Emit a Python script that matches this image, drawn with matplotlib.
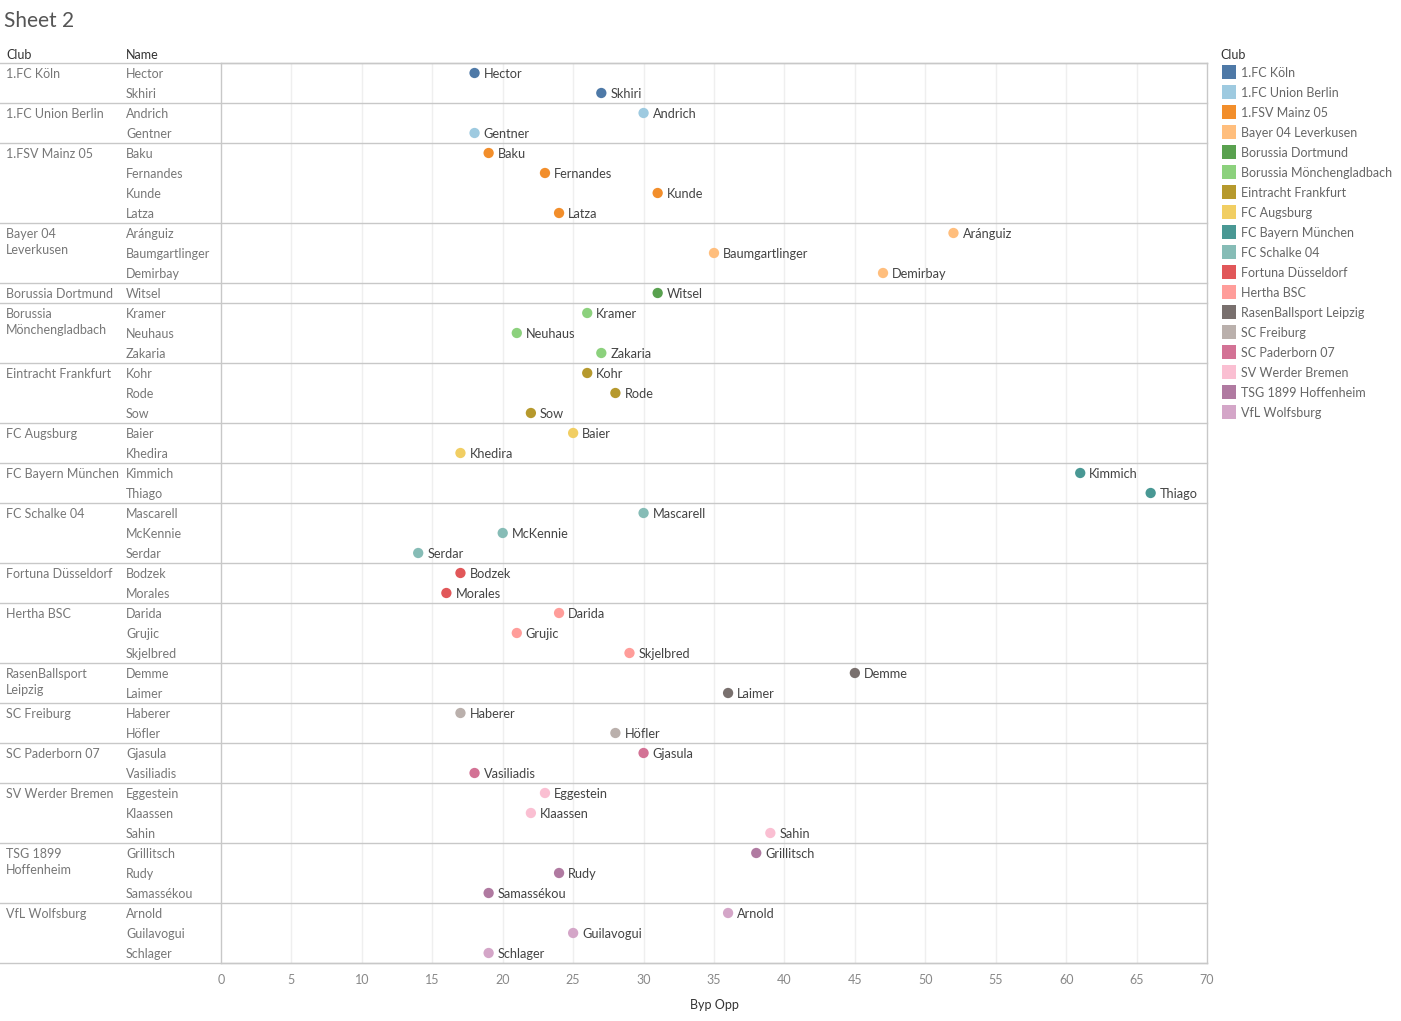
import numpy as np
import matplotlib.pyplot as plt
from matplotlib.patches import Rectangle

plt.rcParams['font.family'] = ['Lato', 'DejaVu Sans']

# Data
clubs = ['1.FC Köln', '1.FC Union Berlin', '1.FSV Mainz 05', 'Bayer 04 Leverkusen',
         'Borussia Dortmund', 'Borussia Mönchengladbach', 'Eintracht Frankfurt',
         'FC Augsburg', 'FC Bayern München', 'FC Schalke 04', 'Fortuna Düsseldorf',
         'Hertha BSC', 'RasenBallsport Leipzig', 'SC Freiburg', 'SC Paderborn 07',
         'SV Werder Bremen', 'TSG 1899 Hoffenheim', 'VfL Wolfsburg']
club_row_labels = ['1.FC Köln', '1.FC Union Berlin', '1.FSV Mainz 05', 'Bayer 04\nLeverkusen',
                   'Borussia Dortmund', 'Borussia\nMönchengladbach', 'Eintracht Frankfurt',
                   'FC Augsburg', 'FC Bayern München', 'FC Schalke 04', 'Fortuna Düsseldorf',
                   'Hertha BSC', 'RasenBallsport\nLeipzig', 'SC Freiburg', 'SC Paderborn 07',
                   'SV Werder Bremen', 'TSG 1899\nHoffenheim', 'VfL Wolfsburg']
club_colors = ['#4E79A7', '#9ECAE0', '#F28E2B', '#FFBE7D', '#59A14F', '#8CD17D',
               '#B6992D', '#F1CE63', '#499894', '#86BCB6', '#E15759', '#FF9D9A',
               '#79706E', '#BAB0AC', '#D37295', '#FABFD2', '#B07AA1', '#D4A6C8']

player_club = [0, 0, 1, 1, 2, 2, 2, 2, 3, 3, 3, 4, 5, 5, 5, 6, 6, 6, 7, 7, 8, 8,
               9, 9, 9, 10, 10, 11, 11, 11, 12, 12, 13, 13, 14, 14, 15, 15, 15,
               16, 16, 16, 17, 17, 17]
players = ['Hector', 'Skhiri', 'Andrich', 'Gentner', 'Baku', 'Fernandes', 'Kunde', 'Latza',
           'Aránguiz', 'Baumgartlinger', 'Demirbay', 'Witsel', 'Kramer', 'Neuhaus', 'Zakaria',
           'Kohr', 'Rode', 'Sow', 'Baier', 'Khedira', 'Kimmich', 'Thiago',
           'Mascarell', 'McKennie', 'Serdar', 'Bodzek', 'Morales', 'Darida', 'Grujic',
           'Skjelbred', 'Demme', 'Laimer', 'Haberer', 'Höfler', 'Gjasula', 'Vasiliadis',
           'Eggestein', 'Klaassen', 'Sahin', 'Grillitsch', 'Rudy', 'Samassékou',
           'Arnold', 'Guilavogui', 'Schlager']
byp_opp = [18, 27, 30, 18, 19, 23, 31, 24, 52, 35, 47, 31, 26, 21, 27, 26, 28, 22,
           25, 17, 61, 66, 30, 20, 14, 17, 16, 24, 21, 29, 45, 36, 17, 28, 30, 18,
           23, 22, 39, 38, 24, 19, 36, 25, 19]

W, H = 1401, 1021
fig = plt.figure(figsize=(W / 100, H / 100), dpi=100)
fig.patch.set_facecolor('white')

L, R, T, B = 221, 1207, 63, 963
ax = fig.add_axes([L / W, 1 - B / H, (R - L) / W, (B - T) / H])

n = len(players)
rows = np.arange(n)
ax.set_xlim(0, 70)
ax.set_ylim(n - 0.5, -0.5)

def axx(px):
    return (px - L) / (R - L)

line_c = '#c8c8c8'
for s in ax.spines.values():
    s.set_color(line_c)
    s.set_linewidth(1)

ax.set_xticks(np.arange(0, 71, 5))
ax.set_yticks([])
ax.tick_params(axis='x', length=0, pad=8, labelsize=9, labelcolor='#888888')
for xv in range(5, 70, 5):
    ax.axvline(xv, color='#efefef', lw=1, zorder=0)
ax.set_xlabel('Byp Opp', fontsize=9, color='#333333', labelpad=9.5)

# dots and labels
cols = [club_colors[c] for c in player_club]
ax.scatter(byp_opp, rows, s=55, c=cols, zorder=3, linewidths=0)
for i in range(n):
    ax.annotate(players[i], (byp_opp[i], rows[i] + 0.03), xytext=(6.5, 0),
                textcoords='offset points', va='center', ha='left',
                fontsize=9.2, color='#444444')

ytr = ax.get_yaxis_transform()

# club separators
starts = [0]
for i in range(1, n):
    if player_club[i] != player_club[i - 1]:
        starts.append(i)
for s in starts:
    ax.plot([axx(0), 1], [s - 0.5, s - 0.5], transform=ytr, color=line_c,
            lw=1, clip_on=False, zorder=1)
ax.plot([axx(0), 1], [n - 0.5, n - 0.5], transform=ytr, color=line_c,
        lw=1, clip_on=False, zorder=1)

# row headers
for k, s in enumerate(starts):
    lab = club_row_labels[player_club[s]]
    ax.text(axx(6), s - 0.27, lab, transform=ytr, va='top', ha='left',
            fontsize=9, color='#777777', linespacing=1.45)
for i in range(n):
    ax.text(axx(126), rows[i] + 0.04, players[i], transform=ytr, va='center',
            ha='left', fontsize=9, color='#777777')

# headers and title
fig.text(4 / W, 1 - 21 / H, 'Sheet 2', fontsize=15, color='#555555',
         va='center', ha='left')
fig.text(6 / W, 1 - 55 / H, 'Club', fontsize=9, color='#333333', va='center')
fig.text(126 / W, 1 - 55 / H, 'Name', fontsize=9, color='#333333', va='center')

# legend
fig.text(1220 / W, 1 - 55 / H, 'Club', fontsize=9, color='#333333', va='center')
for i, c in enumerate(clubs):
    yc = 72 + 20 * i
    fig.add_artist(Rectangle((1222 / W, 1 - (yc + 7) / H), 14 / W, 14 / H,
                             transform=fig.transFigure, facecolor=club_colors[i],
                             edgecolor='none'))
    fig.text(1241 / W, 1 - (yc + 1) / H, c, fontsize=9, color='#666666', va='center')

fig.savefig('out.png', dpi=100)
